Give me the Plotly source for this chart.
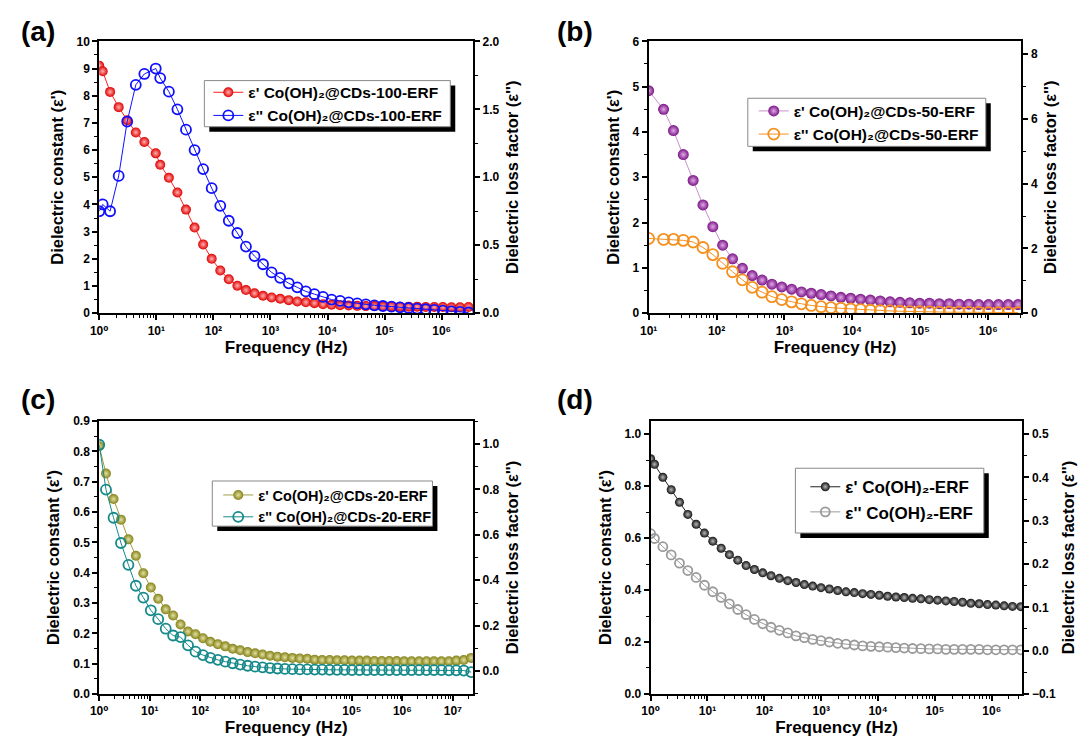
import plotly.graph_objects as go

W, H = 1081, 751

# ---------------- data ----------------
FREQ_A = [1, 1.15, 1.55, 2.19, 3.09, 4.37, 6.17, 9.77, 11.7, 16.6, 23.4, 33.1, 46.8, 66.1, 93.3,
          132, 186, 263, 372, 525, 741, 1047, 1479, 2089, 2951, 4169, 5888, 8318, 11749, 16596,
          23442, 33113, 46774, 66069, 93325, 131826, 186209, 263027, 371535, 524807, 741310,
          1047129, 1479108, 2089296, 2951209]
EPS1_A = [9.10, 8.90, 8.14, 7.58, 7.10, 6.65, 6.30, 5.88, 5.46, 4.98, 4.44, 3.81, 3.15, 2.53, 2.00,
          1.57, 1.25, 1.01, 0.85, 0.73, 0.64, 0.58, 0.53, 0.48, 0.43, 0.40, 0.37, 0.33, 0.31, 0.29,
          0.28, 0.27, 0.26, 0.26, 0.25, 0.25, 0.24, 0.24, 0.24, 0.23, 0.23, 0.23, 0.22, 0.22, 0.23]
EPS2_A = [0.75, 0.80, 0.75, 1.01, 1.41, 1.68, 1.76, 1.80, 1.73, 1.63, 1.50, 1.35, 1.20, 1.06, 0.92,
          0.79, 0.68, 0.59, 0.49, 0.42, 0.36, 0.30, 0.26, 0.22, 0.19, 0.16, 0.14, 0.12, 0.10, 0.09,
          0.08, 0.072, 0.065, 0.058, 0.053, 0.048, 0.043, 0.038, 0.034, 0.029, 0.024, 0.019, 0.014,
          0.010, 0.005]

FREQ_B = [10, 16.6, 23.2, 32.4, 45.2, 63.1, 88.1, 123, 172, 240, 335, 468, 653, 912, 1274, 1778,
          2483, 3467, 4842, 6761, 9441, 13183, 18408, 25704, 35892, 50119, 69984, 97724, 136458,
          190546, 266073, 371535, 518800, 724436, 1011579, 1412538, 1972423, 2754229]
EPS1_B = [4.91, 4.50, 4.03, 3.50, 2.93, 2.39, 1.91, 1.50, 1.20, 0.99, 0.83, 0.73, 0.64, 0.58, 0.53,
          0.47, 0.44, 0.41, 0.38, 0.35, 0.33, 0.31, 0.29, 0.27, 0.25, 0.24, 0.23, 0.22, 0.22, 0.21,
          0.21, 0.20, 0.20, 0.19, 0.19, 0.19, 0.19, 0.19]
EPS2_B = [2.31, 2.28, 2.28, 2.25, 2.20, 2.03, 1.81, 1.54, 1.28, 1.03, 0.80, 0.65, 0.51, 0.42, 0.35,
          0.29, 0.24, 0.20, 0.17, 0.15, 0.13, 0.11, 0.09, 0.08, 0.07, 0.06, 0.05, 0.045, 0.04, 0.035,
          0.03, 0.03, 0.025, 0.025, 0.02, 0.02, 0.02, 0.02]

FREQ_C = [1, 1.36, 1.92, 2.69, 3.78, 5.31, 7.46, 10.5, 14.7, 20.7, 29.0, 40.7, 57.2, 80.4, 113, 158,
          223, 313, 439, 617, 866, 1216, 1708, 2399, 3370, 4732, 6646, 9333, 13109, 18408, 25852,
          36308, 50990, 71614, 100577, 141254, 198383, 278612, 391291, 549541, 771792, 1083927,
          1522290, 2137962, 3002603, 4216965, 5922510, 8317638, 11681334, 16405898, 23044269]
EPS1_C = [0.817, 0.727, 0.643, 0.575, 0.510, 0.456, 0.398, 0.351, 0.314, 0.279, 0.259, 0.229, 0.206,
          0.197, 0.184, 0.172, 0.164, 0.157, 0.149, 0.144, 0.138, 0.134, 0.130, 0.126, 0.123, 0.121,
          0.119, 0.117, 0.116, 0.113, 0.112, 0.112, 0.111, 0.111, 0.110, 0.110, 0.110, 0.109, 0.109,
          0.109, 0.109, 0.108, 0.108, 0.108, 0.108, 0.108, 0.108, 0.108, 0.110, 0.112, 0.119]
EPS2_C = [0.996, 0.799, 0.675, 0.564, 0.468, 0.376, 0.324, 0.268, 0.229, 0.187, 0.157, 0.150, 0.114,
          0.086, 0.071, 0.059, 0.050, 0.042, 0.035, 0.029, 0.024, 0.020, 0.017, 0.014, 0.012, 0.010,
          0.009, 0.008, 0.008, 0.007, 0.007, 0.006, 0.006, 0.006, 0.005, 0.005, 0.005, 0.005, 0.005,
          0.005, 0.005, 0.005, 0.005, 0.005, 0.005, 0.005, 0.005, 0.004, 0.004, 0.003, -0.004]

FREQ_D = [1, 1.17, 1.64, 2.30, 3.22, 4.51, 6.32, 8.85, 12.4, 17.4, 24.3, 34.1, 47.8, 66.9, 93.7, 131,
          184, 258, 361, 506, 708, 992, 1390, 1947, 2728, 3821, 5353, 7499, 10505, 14716, 20615,
          28879, 40456, 56673, 79390, 111214, 155794, 218245, 305729, 428283, 599963, 840461,
          1177361, 1649315, 2310442, 3236555]
EPS1_D = [0.905, 0.884, 0.834, 0.786, 0.738, 0.691, 0.653, 0.619, 0.588, 0.561, 0.536, 0.515, 0.494,
          0.479, 0.466, 0.455, 0.445, 0.436, 0.429, 0.421, 0.415, 0.409, 0.404, 0.398, 0.393, 0.390,
          0.386, 0.383, 0.380, 0.376, 0.373, 0.371, 0.368, 0.366, 0.363, 0.361, 0.358, 0.356, 0.353,
          0.349, 0.347, 0.344, 0.342, 0.339, 0.337, 0.336]
EPS2_D = [0.270, 0.259, 0.240, 0.221, 0.202, 0.185, 0.169, 0.151, 0.136, 0.123, 0.108, 0.095, 0.083,
          0.072, 0.062, 0.054, 0.047, 0.041, 0.034, 0.030, 0.026, 0.023, 0.020, 0.017, 0.015, 0.013,
          0.011, 0.010, 0.009, 0.008, 0.007, 0.006, 0.005, 0.0045, 0.004, 0.004, 0.003, 0.003, 0.003,
          0.003, 0.003, 0.002, 0.002, 0.002, 0.002, 0.002]

NAMES_1 = ["ε' Co(OH)₂@CDs-100-ERF", "ε' Co(OH)₂@CDs-50-ERF",
           "ε' Co(OH)₂@CDs-20-ERF", "ε' Co(OH)₂-ERF"]
NAMES_2 = ["ε'' Co(OH)₂@CDs-100-ERF", "ε'' Co(OH)₂@CDs-50-ERF",
           "ε'' Co(OH)₂@CDs-20-ERF", "ε'' Co(OH)₂-ERF"]
PANEL_LABELS = ["(a)", "(b)", "(c)", "(d)"]
XTICK_VALS = [1, 10, 100, 1e3, 1e4, 1e5, 1e6, 1e7]
XTICK_TEXT = ["10⁰", "10¹", "10²", "10³", "10⁴", "10⁵", "10⁶", "10⁷"]
XTITLE = "Frequency (Hz)"
YTITLE_L = "Dielectric constant (ε')"
YTITLE_R = "Dielectric loss factor (ε'')"

# ---------------- layout / style ----------------
FONT = "Liberation Sans, Arial, DejaVu Sans, sans-serif"


def px_x(v):
    return v / W


def px_y(v):
    return 1 - v / H


MINOR_X = [m * 10 ** e for e in range(0, 8) for m in range(2, 10)]

panels = [
    dict(freq=FREQ_A, e1=EPS1_A, e2=EPS2_A, box=(91, 468, 35, 312), xr=[0, 6.55],
         yl=dict(range=[0, 10], dtick=1, minor=0.5, fmt="d"),
         yr=dict(range=[0, 2.0], dtick=0.5, minor=0.25, fmt=".1f", tick0=0),
         c1="#e00000", g1="#ffb0b0", l1="#ff2020", c2="#1010ff", size=10,
         leg=(197, 445, 75, 122), legoff=(4, -5), legfont=15.5),
    dict(freq=FREQ_B, e1=EPS1_B, e2=EPS2_B, box=(645, 1021, 35, 312), xr=[1, 6.49],
         yl=dict(range=[0, 6], dtick=1, minor=0.5, fmt="d"),
         yr=dict(range=[0, 8.4], dtick=2, minor=1, fmt="d", tick0=0),
         c1="#7a1585", g1="#e0a8e8", l1="#c890cc", c2="#f5901e", size=11,
         leg=(745, 985, 93, 142), legoff=(6, -4), legfont=15.5),
    dict(freq=FREQ_C, e1=EPS1_C, e2=EPS2_C, box=(91, 468, 422, 700), xr=[0, 7.40],
         yl=dict(range=[0, 0.9], dtick=0.1, minor=0.05, fmt=".1f"),
         yr=dict(range=[-0.1, 1.1], dtick=0.2, minor=0.1, fmt=".1f", tick0=0),
         c1="#85821a", g1="#e2e0a0", l1="#a09c40", c2="#168a8a", size=10,
         leg=(205, 427, 483, 529), legoff=(6, -2), legfont=14.5),
    dict(freq=FREQ_D, e1=EPS1_D, e2=EPS2_D, box=(647, 1022, 422, 700), xr=[0, 6.54],
         yl=dict(range=[0, 1.05], dtick=0.2, minor=0.1, fmt=".1f"),
         yr=dict(range=[-0.1, 0.53], dtick=0.1, minor=0.05, fmt=".1f", tick0=-0.1),
         c1="#111111", g1="#b8b8b8", l1="#222222", c2="#9a9a9a", size=9,
         leg=(793, 983, 470, 536), legoff=(10, 1), legfont=17),
]

fig = go.Figure()
layout = dict(width=W, height=H, margin=dict(l=0, r=0, t=0, b=0),
              paper_bgcolor="white", plot_bgcolor="rgba(0,0,0,0)",
              font=dict(family=FONT, color="black", size=12), showlegend=True)
shapes = []
annotations = []

axis_common = dict(showline=True, linewidth=2, linecolor="black", ticks="outside",
                   ticklen=5, tickwidth=1.5, tickcolor="black", showgrid=False,
                   zeroline=False, tickfont=dict(size=12, weight="bold", family=FONT))
xtitle_font = dict(size=17, weight="bold", family=FONT)
ytitle_font = dict(size=16.5, weight="bold", family=FONT)

for i, p in enumerate(panels):
    xn = "x" if i == 0 else f"x{i + 1}"
    yl = f"y{2 * i + 1}" if i > 0 else "y"
    yr = f"y{2 * i + 2}"
    xkey = "xaxis" if i == 0 else f"xaxis{i + 1}"
    ylkey = "yaxis" if i == 0 else f"yaxis{2 * i + 1}"
    yrkey = f"yaxis{2 * i + 2}"
    legkey = "legend" if i == 0 else f"legend{i + 1}"
    x0, x1, y0, y1 = p["box"]

    layout[xkey] = dict(axis_common, type="log", range=p["xr"], domain=[px_x(x0), px_x(x1)],
                        anchor=yl, mirror=True, tickmode="array", tickvals=XTICK_VALS,
                        ticktext=XTICK_TEXT,
                        minor=dict(tickmode="array", tickvals=MINOR_X, ticks="outside",
                                   ticklen=3, tickwidth=1.2, tickcolor="black", showgrid=False),
                        title=dict(text=XTITLE, font=xtitle_font, standoff=3))
    layout[ylkey] = dict(axis_common, range=p["yl"]["range"], domain=[px_y(y1), px_y(y0)],
                         anchor=xn, dtick=p["yl"]["dtick"], tick0=0, tickformat=p["yl"]["fmt"],
                         minor=dict(dtick=p["yl"]["minor"], ticks="outside", ticklen=3,
                                    tickwidth=1.2, tickcolor="black", showgrid=False),
                         title=dict(text=YTITLE_L, font=ytitle_font, standoff=9))
    layout[yrkey] = dict(axis_common, range=p["yr"]["range"], overlaying=yl, side="right",
                         anchor=xn, dtick=p["yr"]["dtick"], tick0=p["yr"]["tick0"],
                         tickformat=p["yr"]["fmt"],
                         minor=dict(dtick=p["yr"]["minor"], ticks="outside", ticklen=3,
                                    tickwidth=1.2, tickcolor="black", showgrid=False),
                         title=dict(text=YTITLE_R, font=ytitle_font, standoff=8))

    fig.add_trace(go.Scatter(
        x=p["freq"], y=p["e1"], xaxis=xn, yaxis=yl, mode="lines+markers", name=NAMES_1[i],
        legend=legkey, line=dict(color=p["l1"], width=1),
        marker=dict(symbol="circle", size=p["size"], color=p["c1"],
                    gradient=dict(type="radial", color=p["g1"]), line=dict(width=0))))
    fig.add_trace(go.Scatter(
        x=p["freq"], y=p["e2"], xaxis=xn, yaxis=yr, mode="lines+markers", name=NAMES_2[i],
        legend=legkey, line=dict(color=p["c2"], width=1),
        marker=dict(symbol="circle-open", size=p["size"], color=p["c2"],
                    line=dict(width=1.8, color=p["c2"]))))

    lx0, lx1, ly0, ly1 = p["leg"]
    dx, dy = p["legoff"]
    shapes.append(dict(type="rect", xref="paper", yref="paper", layer="above",
                       x0=px_x(lx0 + 5), x1=px_x(lx1 + 5), y0=px_y(ly1 + 5), y1=px_y(ly0 + 5),
                       fillcolor="black", line=dict(width=0)))
    shapes.append(dict(type="rect", xref="paper", yref="paper", layer="above",
                       x0=px_x(lx0), x1=px_x(lx1), y0=px_y(ly1), y1=px_y(ly0),
                       fillcolor="white", line=dict(width=1, color="#888888")))
    layout[legkey] = dict(x=px_x(lx0 + dx), y=px_y(ly0 + dy), xanchor="left", yanchor="top",
                          bgcolor="rgba(0,0,0,0)", borderwidth=0, tracegroupgap=0,
                          font=dict(size=p["legfont"], weight="bold", family=FONT, color="black"),
                          itemwidth=30)

    lab_x = 29 if i % 2 == 0 else 571
    lab_y = 25 if i < 2 else 400
    annotations.append(dict(text=PANEL_LABELS[i], xref="paper", yref="paper",
                            x=px_x(lab_x), y=px_y(lab_y), xanchor="center", yanchor="middle",
                            showarrow=False, font=dict(size=28, weight="bold", family=FONT)))

layout["shapes"] = shapes
layout["annotations"] = annotations
fig.update_layout(**layout)
fig.write_html("out.html", config={"displayModeBar": False},
               post_script="document.body.style.margin='0px';"
                           "document.body.style.overflow='hidden';")
